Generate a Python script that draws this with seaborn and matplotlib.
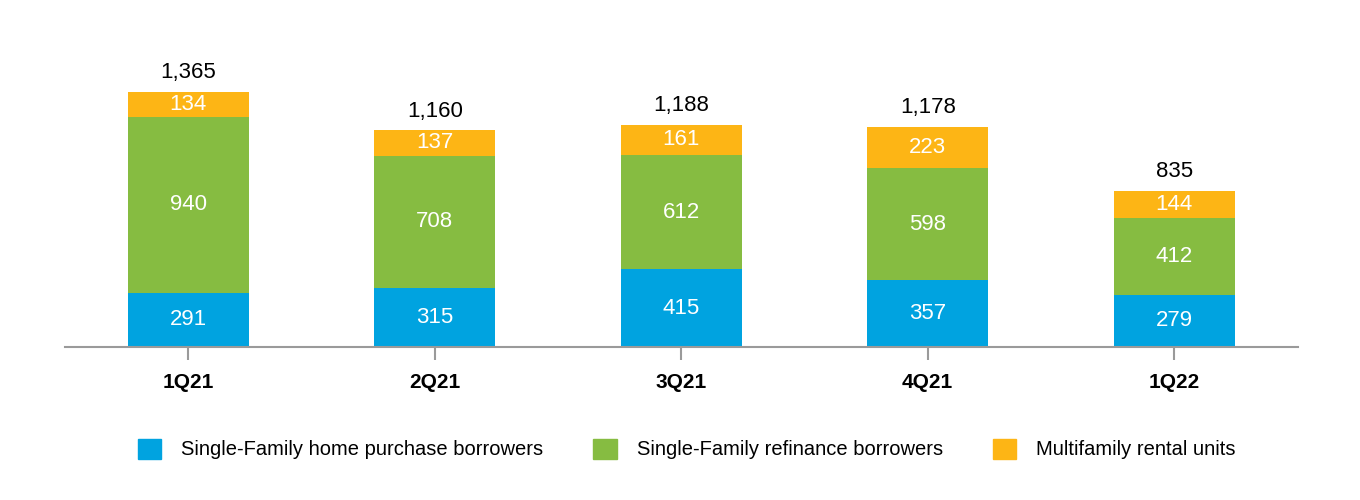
import matplotlib
matplotlib.use("Agg")
import matplotlib.pyplot as plt
import matplotlib.patches as mpatches
from matplotlib import font_manager
import seaborn as sns
import pandas as pd
import numpy as np

quarters = ["1Q21", "2Q21", "3Q21", "4Q21", "1Q22"]
purchase = [291, 315, 415, 357, 279]
refinance = [940, 708, 612, 598, 412]
multifamily = [134, 137, 161, 223, 144]
totals = [1365, 1160, 1188, 1178, 835]
series_names = ["Single-Family home purchase borrowers",
                "Single-Family refinance borrowers",
                "Multifamily rental units"]
colors = ["#00A3E0", "#86BC41", "#FDB515"]

sns.set_theme(style="white")
names = {f.name for f in font_manager.fontManager.ttflist}
fam = [f for f in ["Liberation Sans Narrow", "Liberation Sans", "DejaVu Sans"] if f in names]
plt.rcParams["font.family"] = fam

df = pd.DataFrame({"quarter": quarters, "purchase": purchase,
                   "refinance": refinance, "multifamily": multifamily})
df["lvl1"] = df["purchase"]
df["lvl2"] = df["purchase"] + df["refinance"]
df["lvl3"] = df["lvl2"] + df["multifamily"]

fig = plt.figure(figsize=(13.6, 5), dpi=100)
ax = fig.add_axes([65 / 1360, 153 / 500, 1232.5 / 1360, 280.5 / 500])

for col, c in [("lvl3", colors[2]), ("lvl2", colors[1]), ("lvl1", colors[0])]:
    sns.barplot(data=df, x="quarter", y=col, color=c, width=0.49,
                saturation=1, ax=ax, linewidth=0, errorbar=None)

ax.set_xlim(-0.5, 4.5)
ax.set_ylim(0, 1500)
for s in ["top", "right", "left"]:
    ax.spines[s].set_visible(False)
ax.spines["bottom"].set_color("#9a9a9a")
ax.spines["bottom"].set_linewidth(1.5)
ax.set_yticks([])
ax.set_xlabel("")
ax.set_ylabel("")
ax.tick_params(axis="x", bottom=True, length=9, width=1.5, color="#9a9a9a",
               pad=10, labelsize=15)
for lab in ax.get_xticklabels():
    lab.set_fontweight("bold")
    lab.set_color("black")

for i in range(len(quarters)):
    p, r, m = purchase[i], refinance[i], multifamily[i]
    ax.text(i, p / 2, f"{p}", ha="center", va="center", color="white", fontsize=16)
    ax.text(i, p + r / 2, f"{r}", ha="center", va="center", color="white", fontsize=16)
    ax.text(i, p + r + m / 2, f"{m}", ha="center", va="center", color="white", fontsize=16)
    ax.text(i, p + r + m + 45, f"{totals[i]:,}", ha="center", va="bottom",
            color="black", fontsize=16)

handles = [mpatches.Patch(color=c, label=n) for c, n in zip(colors, series_names)]
fig.legend(handles=handles, loc="center", bbox_to_anchor=(0.505, 0.102), ncol=3,
           frameon=False, fontsize=14.5, handlelength=1.15, handleheight=1.15,
           handletextpad=1.0, columnspacing=2.5, labelcolor="black")

fig.savefig("out.png", dpi=100)
